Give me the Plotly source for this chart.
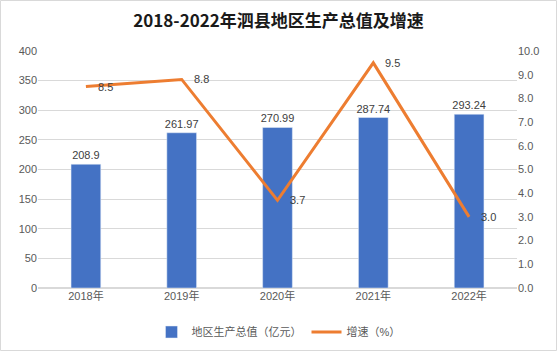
import plotly.graph_objects as go

years = ["2018年", "2019年", "2020年", "2021年", "2022年"]
gdp = [208.9, 261.97, 270.99, 287.74, 293.24]
gdp_labels = ["208.9", "261.97", "270.99", "287.74", "293.24"]
growth = [8.5, 8.8, 3.7, 9.5, 3.0]
growth_labels = ["8.5", "8.8", "3.7", "9.5", "3.0"]

W, H = 557, 351
L, R, T, B = 38, 40, 51, 63
pw, ph = W - L - R, H - T - B

font = "Liberation Sans, Arial, Noto Sans CJK SC, sans-serif"

fig = go.Figure()
fig.add_trace(go.Bar(
    x=years, y=gdp, name="地区生产总值（亿元）",
    marker_color="#4472C4", width=0.31,
    text=gdp_labels, textposition="outside", cliponaxis=False, constraintext="none",
    textfont=dict(size=11, color="#404040"),
))
fig.add_trace(go.Scatter(
    x=years, y=growth, name="增速（%）", yaxis="y2",
    mode="lines", line=dict(color="#ED7D31", width=3),
))

for yr, g, lab in zip(years, growth, growth_labels):
    fig.add_annotation(x=yr, y=g, xref="x", yref="y2", text=lab, showarrow=False,
                       xanchor="left", yanchor="middle", xshift=10,
                       font=dict(size=11, color="#404040"))

fig.update_layout(
    width=W, height=H,
    margin=dict(l=L, r=R, t=T, b=B, autoexpand=False),
    paper_bgcolor="white", plot_bgcolor="white",
    font=dict(family=font, size=11, color="#595959"),
    title=dict(text="<b>2018-2022年泗县地区生产总值及增速</b>",
               x=0.5, xanchor="center", y=1 - 21 / H, yanchor="middle",
               font=dict(size=17, color="#1a1a1a", family="Noto Sans CJK SC, sans-serif")),
    xaxis=dict(showgrid=False, showline=False, ticks="", tickfont=dict(size=11)),
    yaxis=dict(range=[0, 400], dtick=50, showgrid=True, gridcolor="#D9D9D9",
               zeroline=True, zerolinecolor="#D9D9D9", ticks="", tickfont=dict(size=11)),
    yaxis2=dict(range=[0, 10], dtick=1, tickformat=".1f", overlaying="y", side="right",
                showgrid=False, zeroline=False, ticks="", tickfont=dict(size=11)),
    legend=dict(orientation="h", x=0.5, xanchor="center", xref="container",
                y=1 - 332 / H, yanchor="middle", yref="container",
                itemwidth=30, font=dict(size=11, color="#595959"), traceorder="normal"),
    showlegend=True,
)

# outer light gray border around the whole figure
fig.add_shape(type="rect", xref="paper", yref="paper",
              x0=(0.5 - L) / pw, x1=(W - 0.5 - L) / pw,
              y0=-(H - 0.5 - T - ph) / ph, y1=1 + (T - 0.5) / ph,
              line=dict(color="#D9D9D9", width=1), layer="below")

fig.write_html("out.html")
